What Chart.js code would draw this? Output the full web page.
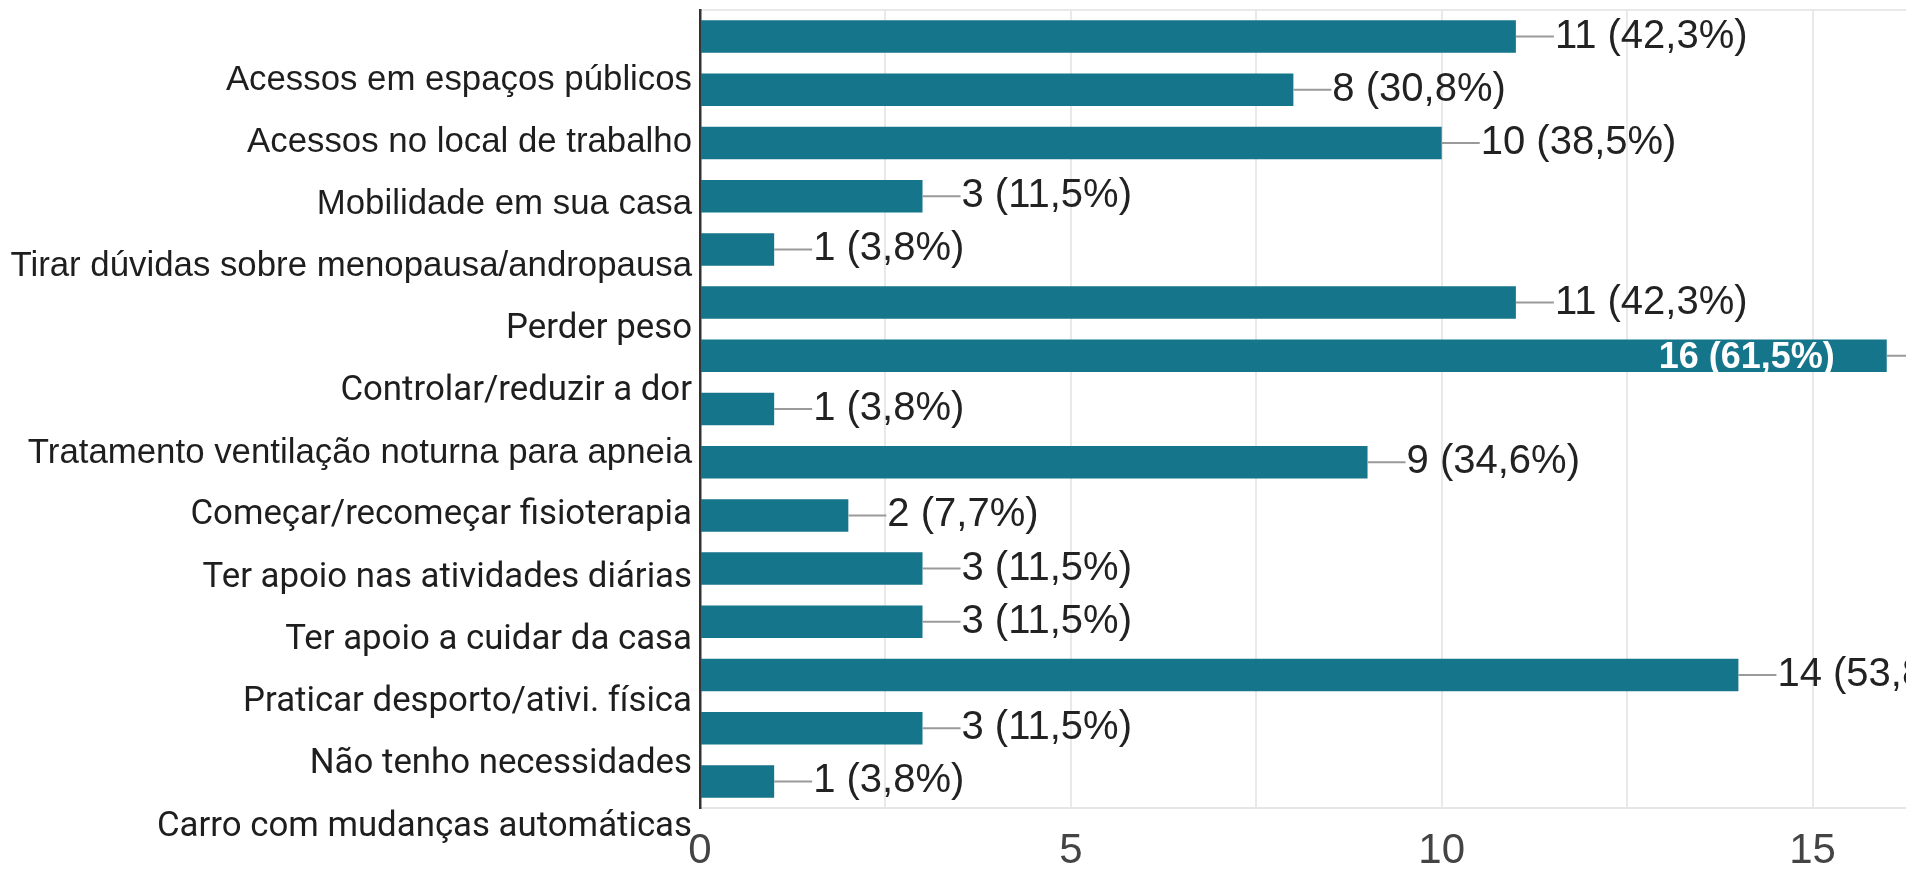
<!DOCTYPE html>
<html>
<head>
<meta charset="utf-8">
<script src="https://cdn.jsdelivr.net/npm/chart.js@4.4.1/dist/chart.umd.min.js"></script>
<style>
  html, body { margin: 0; padding: 0; background: #fff; overflow: hidden; }
  #wrap { width: 1906px; height: 869px; overflow: hidden; position: relative; }
  canvas { display: block; }
</style>
</head>
<body>
<div id="wrap"><canvas id="chart" width="2000" height="869"></canvas></div>
<script>
// Answer texts shown down the left side
const answers = [
  'Acessos em espaços públicos',
  'Acessos no local de trabalho',
  'Mobilidade em sua casa',
  'Tirar dúvidas sobre menopausa/andropausa',
  'Perder peso',
  'Controlar/reduzir a dor',
  'Tratamento ventilação noturna para apneia',
  'Começar/recomeçar fisioterapia',
  'Ter apoio nas atividades diárias',
  'Ter apoio a cuidar da casa',
  'Praticar desporto/ativi. física',
  'Não tenho necessidades',
  'Carro com mudanças automáticas'
];

// Number of answers per bar, top to bottom
const counts = [11, 8, 10, 3, 1, 11, 16, 1, 9, 2, 3, 3, 14, 3, 1];

// Total respondents (base for the percentages)
const respondents = 26;

// Labelled values on the horizontal axis
const xTickLabels = [0, 5, 10, 15];

const barRows = counts.map((_, i) => i);

const SANS = '"Liberation Sans", Arial, sans-serif';
const ROBOTO = 'Roboto, "Liberation Sans", sans-serif';
// Rows whose label is set in the Arial-like face; the rest use Roboto
const arialRows = new Set([0, 1, 2, 3, 6]);

function pctText(v) {
  return v + ' (' + (v / respondents * 100).toFixed(1).replace('.', ',') + '%)';
}

// Keep the plot area exactly where the layout puts it (no extra label padding)
function noPadding(s) {
  s.paddingTop = 0;
  s.paddingBottom = 0;
  s.paddingLeft = 0;
  s.paddingRight = 0;
}

// Value labels with a short leader line at the end of each bar
const valueLabels = {
  id: 'valueLabels',
  afterDatasetsDraw(chart) {
    const { ctx, chartArea } = chart;
    const meta = chart.getDatasetMeta(0);
    ctx.save();
    meta.data.forEach((bar, i) => {
      const v = counts[i];
      const text = pctText(v);
      const { x, y, base, height } = bar.getProps(['x', 'y', 'base', 'height'], true);
      const lead = 38;
      ctx.strokeStyle = '#9a9a9a';
      ctx.lineWidth = 2;
      ctx.beginPath();
      ctx.moveTo(x, y);
      ctx.lineTo(x + lead, y);
      ctx.stroke();

      ctx.font = '40px ' + SANS;
      const w = ctx.measureText(text).width;
      if (x + lead + w <= chartArea.right) {
        ctx.fillStyle = '#222';
        ctx.textAlign = 'left';
        ctx.textBaseline = 'middle';
        ctx.fillText(text, x + lead + 1, y);
      } else {
        // Not enough room outside: write it inside the bar, in white
        ctx.save();
        ctx.beginPath();
        ctx.rect(base, y - height / 2, x - base, height);
        ctx.clip();
        ctx.font = 'bold 36px ' + SANS;
        ctx.fillStyle = '#ffffff';
        ctx.textAlign = 'right';
        ctx.textBaseline = 'middle';
        ctx.fillText(text, x - 52, y + 2);
        ctx.restore();
      }
    });
    ctx.restore();
  }
};

new Chart(document.getElementById('chart'), {
  type: 'bar',
  data: {
    labels: barRows,
    datasets: [{
      data: counts,
      backgroundColor: '#15758a',
      borderWidth: 0,
      barPercentage: 0.61,
      categoryPercentage: 1
    }]
  },
  options: {
    indexAxis: 'y',
    responsive: false,
    animation: false,
    events: [],
    layout: { padding: { top: 10, right: 2, left: 0, bottom: 0 } },
    plugins: { legend: { display: false }, tooltip: { enabled: false } },
    scales: {
      x: {
        type: 'linear',
        position: 'bottom',
        min: 0,
        max: 17.5,
        ticks: {
          stepSize: 2.5,
          padding: 18,
          color: '#444',
          font: { family: SANS, size: 42 },
          maxRotation: 0,
          autoSkip: false,
          callback: v => xTickLabels.includes(v) ? String(v) : ''
        },
        grid: {
          drawTicks: false,
          lineWidth: 2,
          color: ctx => (ctx.tick && ctx.tick.value === 0) ? 'rgba(0,0,0,0)' : '#e9e9e9'
        },
        border: { display: true, color: '#e6e6e6', width: 2 },
        afterFit: s => { s.height = 61; noPadding(s); }
      },
      y: {
        type: 'category',
        position: 'right',
        offset: true,
        ticks: { display: false, padding: 0 },
        grid: {
          offset: true,
          drawTicks: false,
          lineWidth: 2,
          color: ctx => ctx.index === 0 ? '#e9e9e9' : 'rgba(0,0,0,0)'
        },
        border: { display: false },
        afterFit: s => { s.width = 0; noPadding(s); }
      },
      yl: {
        type: 'linear',
        position: 'left',
        reverse: true,
        offset: false,
        min: -1.125,
        max: 11.695,
        afterBuildTicks: s => { s.ticks = answers.map((_, i) => ({ value: i })); },
        ticks: {
          autoSkip: false,
          padding: 8,
          color: '#1e1e1e',
          font: ctx => ({
            family: arialRows.has(ctx.tick ? ctx.tick.value : ctx.index) ? SANS : ROBOTO,
            size: 34.8
          }),
          callback: v => answers[v]
        },
        grid: { display: false, drawTicks: false },
        border: { display: true, color: '#333', width: 2.5 },
        afterFit: s => { s.width = 700; noPadding(s); }
      }
    }
  },
  plugins: [valueLabels]
});
</script>
</body>
</html>
